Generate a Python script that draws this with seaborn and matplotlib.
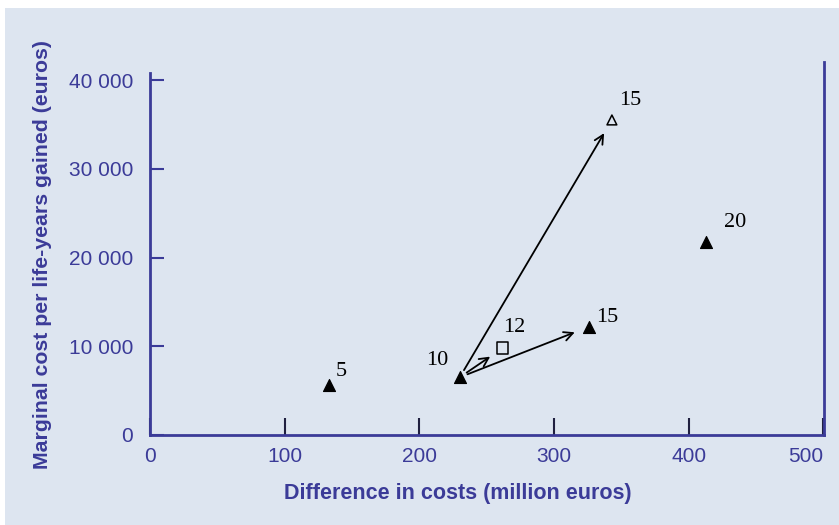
import matplotlib
matplotlib.use("Agg")
import matplotlib.pyplot as plt
import seaborn as sns
import pandas as pd
from matplotlib.patches import Rectangle

# Data
labels = ["5", "10", "12", "15", "15", "20"]
cost_diff = [133, 230, 262, 326, 343, 413]
marginal_cost = [5600, 6500, 9800, 12200, 35500, 21800]
kind = ["filled", "filled", "square", "filled", "open", "filled"]
arrow_to_idx = [2, 3, 4]

x_ticks = [0, 100, 200, 300, 400, 500]
y_ticks = [0, 10000, 20000, 30000, 40000]
y_tick_labels = ["0", "10 000", "20 000", "30 000", "40 000"]

df = pd.DataFrame({"label": labels, "x": cost_diff, "y": marginal_cost, "kind": kind})

sns.set_theme(style="white")
plt.rcParams["font.family"] = ["Liberation Sans", "DejaVu Sans"]

BLUE = "#3b3b98"
PANEL = "#dde5f0"

fig = plt.figure(figsize=(8.39, 5.25), dpi=100)
fig.patch.set_facecolor("white")
fig.patches.append(Rectangle((5 / 839, 0.0), 1.0, 1 - 8 / 525, transform=fig.transFigure,
                             facecolor=PANEL, edgecolor="none", zorder=-10))

W, H = 839, 525
left, right, bottom, top = 150, 824, 435, 62
ax = fig.add_axes([left / W, 1 - bottom / H, (right - left) / W, (bottom - top) / H])
ax.set_facecolor("none")

# markers
filled = df[df.kind == "filled"]
sns.scatterplot(data=filled, x="x", y="y", marker="^", s=75, color="black",
                edgecolor="black", linewidth=0.8, ax=ax, zorder=3)
opn = df[df.kind == "open"]
sns.scatterplot(data=opn, x="x", y="y", marker="^", s=50, color="black",
                edgecolor="black", linewidth=1.1, ax=ax, zorder=3)
ax.collections[-1].set_facecolor("none")
sq = df[df.kind == "square"]
sns.scatterplot(data=sq, x="x", y="y", marker="s", s=65, color="black",
                edgecolor="black", linewidth=1.1, ax=ax, zorder=3)
ax.collections[-1].set_facecolor("none")

# arrows
src = df.iloc[1]
for i in arrow_to_idx:
    t = df.iloc[i]
    ax.annotate("", xy=(t.x, t.y), xytext=(src.x, src.y),
                arrowprops=dict(arrowstyle="->", color="black", lw=1.3,
                                shrinkA=6, shrinkB=11, mutation_scale=16))

# point labels
offsets = [(5, 3), (-24, 5), (0, 8), (5, 0), (5, 7), (13, 7)]
for (lab, x, y), (dx, dy) in zip(zip(labels, cost_diff, marginal_cost), offsets):
    ax.annotate(lab, (x, y), xytext=(dx, dy), textcoords="offset points",
                fontsize=16, family=["Liberation Serif", "DejaVu Serif"], color="black",
                ha="left", va="bottom")

ax.set_xlim(0, 500.5)
ax.set_ylim(0, 42030)
ax.set_xticks(x_ticks)
ax.set_xticklabels([str(v) for v in x_ticks])
ax.set_yticks(y_ticks)
ax.set_yticklabels(y_tick_labels)

for s in ["left", "bottom", "right"]:
    ax.spines[s].set_color(BLUE)
    ax.spines[s].set_linewidth(2)
ax.spines["top"].set_visible(False)
ax.spines["left"].set_bounds(0, 40800)

ax.tick_params(axis="y", direction="in", length=10, width=1.5, color=BLUE,
               labelcolor=BLUE, labelsize=15, pad=12, left=True)
ax.tick_params(axis="x", direction="in", length=12, width=1.5, color="#202040",
               labelcolor=BLUE, labelsize=15, pad=9, bottom=True)
ax.get_xticklabels()[-1].set_horizontalalignment("right")

ax.set_xlabel("Difference in costs (million euros)", fontsize=15.5, fontweight="bold",
              color=BLUE, labelpad=8)
ax.xaxis.set_label_coords((458 - left) / (right - left), -(483 - bottom) / (bottom - top))
ax.set_ylabel("Marginal cost per life-years gained (euros)", fontsize=15.3,
              fontweight="bold", color=BLUE, labelpad=12)
ax.yaxis.set_label_coords(-(150 - 52) / (right - left), (bottom - 255) / (bottom - top))

fig.savefig("out.png", dpi=100)
